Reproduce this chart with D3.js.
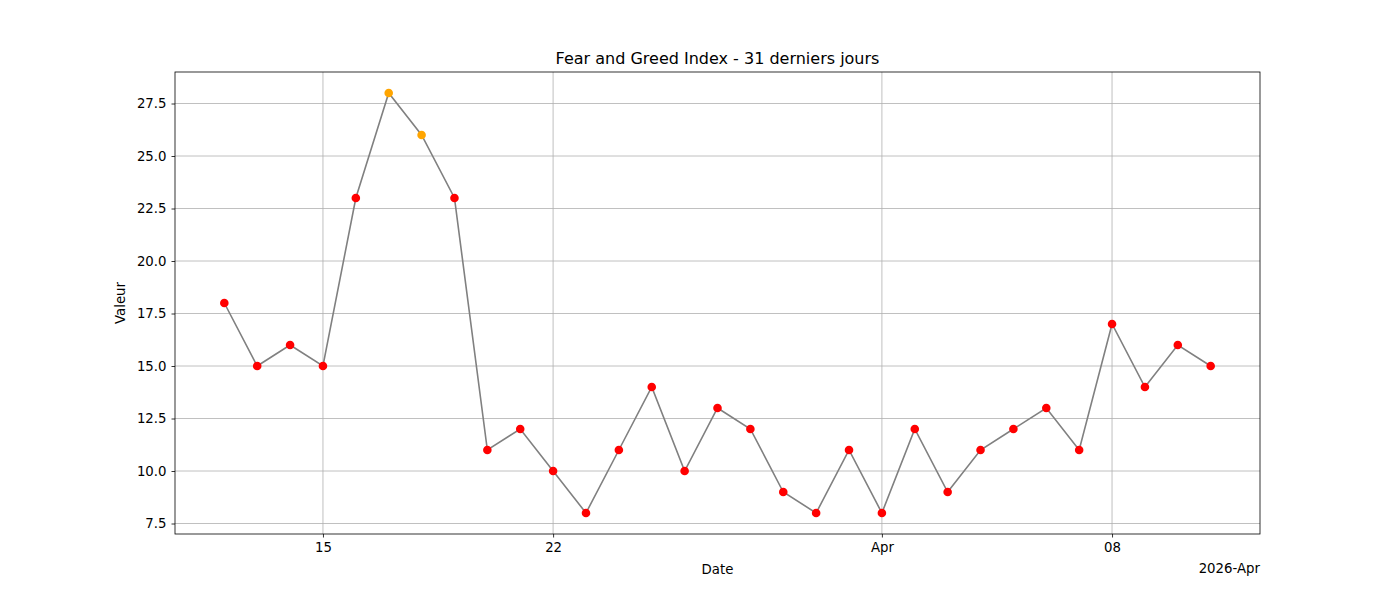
<!DOCTYPE html>
<html><head><meta charset="utf-8">
<script src="https://cdn.jsdelivr.net/npm/d3@7"></script>
<style>body{margin:0;background:#fff}text{font-family:"DejaVu Sans",sans-serif}</style>
</head><body><svg id="c" width="1400" height="600"></svg>
<script>
const startDate = "2026-03-12";
const values = [18,15,16,15,23,28,26,23,11,12,10,8,11,14,10,13,12,9,8,11,8,12,9,11,12,13,11,17,14,16,15];
const yTicks = [7.5,10,12.5,15,17.5,20,22.5,25,27.5];
const xTickLabels = [["2026-03-15","15"],["2026-03-22","22"],["2026-04-01","Apr"],["2026-04-08","08"]];
const greedThreshold = 25;

const parse = d3.utcParse("%Y-%m-%d");
const t0 = parse(startDate);
const data = values.map((v,i)=>({date:d3.utcDay.offset(t0,i), v}));

const svg = d3.select("#c");
const L=175,R=1260,T=72,B=534;
const x = d3.scaleUtc().domain([d3.utcHour.offset(t0,-36), d3.utcHour.offset(data[data.length-1].date,36)]).range([L,R]);
const y = d3.scaleLinear().domain([7,29]).range([B,T]);

const g = svg.append("g");
// grid
yTicks.forEach(t=>g.append("line").attr("x1",L).attr("x2",R).attr("y1",y(t)).attr("y2",y(t)).attr("stroke","#b0b0b0").attr("stroke-width",0.8));
xTickLabels.forEach(([d])=>g.append("line").attr("x1",x(parse(d))).attr("x2",x(parse(d))).attr("y1",T).attr("y2",B).attr("stroke","#b0b0b0").attr("stroke-width",0.8));

const xa = svg.append("g").attr("transform",`translate(0,${B})`)
  .call(d3.axisBottom(x).tickValues(xTickLabels.map(d=>parse(d[0]))).tickFormat((d,i)=>xTickLabels[i][1]).tickSizeOuter(0).tickSize(3.5).tickPadding(5));
const ya = svg.append("g").attr("transform",`translate(${L},0)`)
  .call(d3.axisLeft(y).tickValues(yTicks).tickFormat(d3.format(".1f")).tickSizeOuter(0).tickSize(3.5).tickPadding(5));
[xa,ya].forEach(a=>{a.select(".domain").remove();a.selectAll("text").attr("font-size",13.3).attr("fill","#000").attr("font-family","DejaVu Sans");a.selectAll("line").attr("stroke","#000").attr("stroke-width",0.8);});

svg.append("path").datum(data).attr("fill","none").attr("stroke","#808080").attr("stroke-width",1.6)
  .attr("d",d3.line().x(d=>x(d.date)).y(d=>y(d.v)));
svg.selectAll("circle.p").data(data).join("circle").attr("cx",d=>x(d.date)).attr("cy",d=>y(d.v)).attr("r",4.3)
  .attr("fill",d=>d.v>=greedThreshold?"orange":"red");

svg.append("rect").attr("x",L).attr("y",T).attr("width",R-L).attr("height",B-T).attr("fill","none").attr("stroke","#000").attr("stroke-width",0.8);

svg.append("text").attr("x",(L+R)/2).attr("y",T-8).attr("text-anchor","middle").attr("font-size",16).text("Fear and Greed Index - 31 derniers jours");
svg.append("text").attr("x",(L+R)/2).attr("y",574).attr("text-anchor","middle").attr("font-size",13.3).text("Date");
svg.append("text").attr("x",R).attr("y",573).attr("text-anchor","end").attr("font-size",13.3).text("2026-Apr");
svg.append("text").attr("transform",`translate(125,${(T+B)/2}) rotate(-90)`).attr("text-anchor","middle").attr("font-size",13.3).text("Valeur");
</script></body></html>
